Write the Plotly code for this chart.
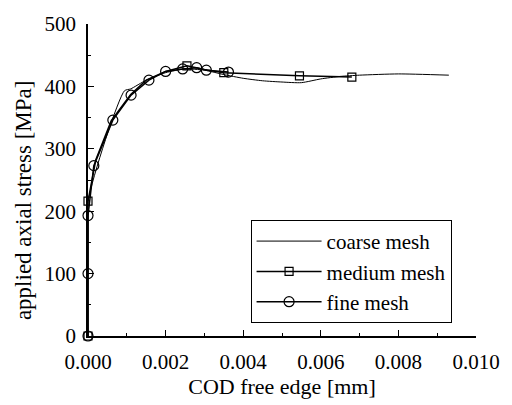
import plotly.graph_objects as go

# coarse mesh (thin line, no markers)
coarse_x = [0.0, 0.0, 0.00094, 0.0011, 0.0015, 0.0020, 0.0025, 0.0030, 0.0035, 0.0040, 0.0045, 0.0050, 0.0055, 0.0060, 0.0065, 0.0070, 0.0080, 0.0093]
coarse_y = [0, 215, 393, 396, 410, 422, 428, 426, 419, 413, 409, 407, 406, 412, 416, 418, 420, 418]

# medium mesh (line through all points, squares at selected points)
medium_x = [0.0, 0.0, 0.0002, 0.0006, 0.0011, 0.0015, 0.0020, 0.00255, 0.0030, 0.0035, 0.00545, 0.0068]
medium_y = [0, 216, 282, 345, 387, 410, 424, 433, 427, 422, 417, 415]
medium_marked = [0, 1, 7, 9, 10, 11]

# fine mesh (circles at every point)
fine_x = [0.0, 0.0, 0.0, 0.00015, 0.00064, 0.00111, 0.00157, 0.0020, 0.00244, 0.0028, 0.00305, 0.00362]
fine_y = [0, 100, 193, 273, 346, 386, 410, 424, 428, 430, 426, 423]

x_ticks = [0.000, 0.002, 0.004, 0.006, 0.008, 0.010]
y_ticks = [0, 100, 200, 300, 400, 500]

FONT = "Liberation Serif, Times New Roman, serif"

fig = go.Figure()
fig.add_trace(go.Scatter(x=coarse_x, y=coarse_y, mode="lines", name="coarse mesh", cliponaxis=False,
                         line=dict(color="black", width=1, shape="spline", smoothing=0.6)))
fig.add_trace(go.Scatter(x=medium_x, y=medium_y, mode="lines", showlegend=False, cliponaxis=False,
                         line=dict(color="black", width=1.5)))
fig.add_trace(go.Scatter(x=[medium_x[i] for i in medium_marked], y=[medium_y[i] for i in medium_marked],
                         mode="markers", showlegend=False, cliponaxis=False,
                         marker=dict(symbol="square-open", size=8, color="black", line=dict(width=1.2))))
fig.add_trace(go.Scatter(x=[None], y=[None], mode="lines+markers", name="medium mesh",
                         line=dict(color="black", width=1.5),
                         marker=dict(symbol="square-open", size=8, color="black", line=dict(width=1.2))))
fig.add_trace(go.Scatter(x=fine_x, y=fine_y, mode="lines+markers", name="fine mesh", cliponaxis=False,
                         line=dict(color="black", width=1.5),
                         marker=dict(symbol="circle-open", size=10, color="black", line=dict(width=1.2))))

axis_common = dict(showgrid=False, zeroline=False, showline=True, linecolor="black", linewidth=1.5,
                   ticks="inside", ticklen=6, tickwidth=1, tickcolor="black",
                   tickfont=dict(family=FONT, size=21, color="black"))

fig.update_xaxes(range=[0, 0.010], tickvals=x_ticks, tickformat=".3f", ticklabelstandoff=6,
                 minor=dict(ticks="inside", ticklen=3, dtick=0.001, tickcolor="black"),
                 title=dict(text="COD free edge [mm]", font=dict(family=FONT, size=22, color="black"), standoff=4),
                 **axis_common)
fig.update_yaxes(range=[0, 500], tickvals=y_ticks, ticklabelstandoff=6,
                 minor=dict(ticks="inside", ticklen=3, dtick=50, tickcolor="black"),
                 **axis_common)

fig.add_annotation(text="applied axial stress [MPa]", xref="paper", yref="paper",
                   x=-0.168, y=0.435, xanchor="center", yanchor="middle", textangle=-90,
                   showarrow=False, font=dict(family=FONT, size=23, color="black"))

fig.update_layout(
    width=512, height=405,
    margin=dict(l=88, r=30, t=13, b=64),
    paper_bgcolor="white", plot_bgcolor="white",
    showlegend=True,
    legend=dict(x=0.419, y=0.372, xanchor="left", yanchor="top",
                bordercolor="black", borderwidth=1, bgcolor="white",
                font=dict(family=FONT, size=21, color="black"),
                tracegroupgap=0, itemwidth=65),
)

fig.write_html("out.html")
